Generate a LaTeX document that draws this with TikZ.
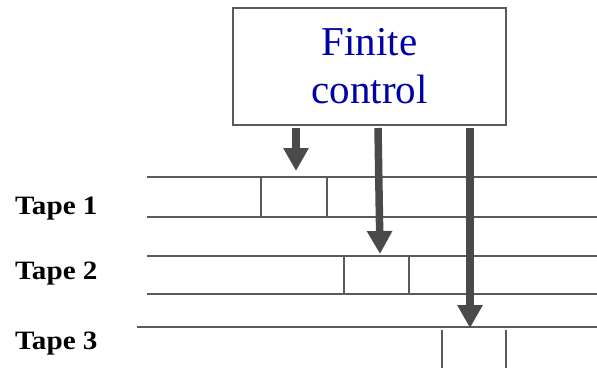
\documentclass[tikz,border=0pt]{standalone}
\usepackage{fontspec}
\setmainfont{Liberation Serif}
\newfontfamily\labelfont[FakeStretch=1.1]{Liberation Serif}
\usetikzlibrary{arrows.meta}
\definecolor{linegray}{HTML}{5A5A5A}
\definecolor{arrowgray}{HTML}{4A4A4A}
\definecolor{ctrlblue}{HTML}{0000A8}
\tikzset{
  tapeline/.style={draw=linegray, line width=1.4pt},
  headarrow/.style={draw=arrowgray, line width=7.5pt, -{Triangle[width=24pt,length=23pt]}, arrowgray},
  tapelabel/.style={font=\labelfont\bfseries\fontsize{26.5}{30}\selectfont, anchor=base west, inner sep=0pt},
  ctrlbox/.style={draw=linegray, line width=1.8pt, fill=white, minimum width=273pt, minimum height=117pt, inner sep=0pt, align=center, text=ctrlblue, font=\fontsize{41}{48}\selectfont}
}
\begin{document}
\begin{tikzpicture}[x=1pt,y=-1pt]
\useasboundingbox (0,0) rectangle (597,368);
% finite control
\node[ctrlbox] (fc) at (369.5,66.5) {Finite\\control};
% tape 1
\draw[tapeline] (147,177) -- (597,177);
\draw[tapeline] (147,217) -- (597,217);
\draw[tapeline] (261,177) -- (261,217);
\draw[tapeline] (327,177) -- (327,217);
% tape 2
\draw[tapeline] (147,256) -- (597,256);
\draw[tapeline] (147,294) -- (597,294);
\draw[tapeline] (344,256) -- (344,294);
\draw[tapeline] (409,256) -- (409,294);
% tape 3
\draw[tapeline] (137,327) -- (597,327);
\draw[tapeline] (442,330) -- (442,368);
\draw[tapeline] (506,330) -- (506,368);
% labels
\node[tapelabel] (t1) at (15,214) {Tape 1};
\node[tapelabel] (t2) at (15,279) {Tape 2};
\node[tapelabel] (t3) at (15,349) {Tape 3};
% heads
\coordinate (s1) at (296,128);
\coordinate (h1) at (296,171);
\coordinate (s2) at (378,128);
\coordinate (h2) at (380,254);
\coordinate (s3) at (470,128);
\coordinate (h3) at (470,328);
\draw[headarrow] (s1) -- (h1);
\draw[headarrow] (s2) -- (h2);
\draw[headarrow] (s3) -- (h3);
\end{tikzpicture}
\end{document}
